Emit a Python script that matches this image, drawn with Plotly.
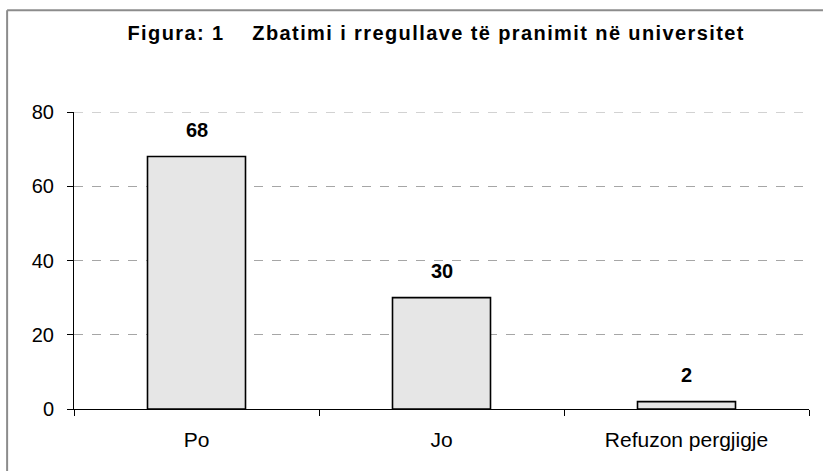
import plotly.graph_objects as go

categories = ["Po", "Jo", "Refuzon pergjigje"]
values = [68, 30, 2]
y_ticks = [0, 20, 40, 60, 80]
title_text = "Figura: 1    Zbatimi i rregullave të pranimit në universitet"

FONT = "Liberation Sans, Arial, sans-serif"

fig = go.Figure()
fig.add_trace(go.Bar(
    x=categories, y=values,
    marker=dict(color="#e6e6e6", line=dict(color="#000000", width=1.6)),
    width=0.4,
    hoverinfo="skip",
))

for c, v in zip(categories, values):
    fig.add_annotation(x=c, y=v, text=f"<b>{v}</b>", showarrow=False,
                       yanchor="middle", yshift=27,
                       font=dict(family=FONT, size=20, color="#000"))

# dashed gridline at the top tick (plotly omits the one on the range edge)
fig.add_shape(type="line", xref="paper", yref="y", x0=0, x1=1,
              y0=y_ticks[-1], y1=y_ticks[-1],
              line=dict(color="#a6a6a6", width=1, dash="dash"), layer="below")

# outer chart frame (top and left edges visible)
fig.add_shape(type="line", xref="paper", yref="paper", x0=-0.091, x1=1.019,
              y0=1.343, y1=1.343, line=dict(color="#8c8c8c", width=2))
fig.add_shape(type="line", xref="paper", yref="paper", x0=-0.091, x1=-0.091,
              y0=-0.21, y1=1.343, line=dict(color="#8c8c8c", width=2))

fig.update_layout(
    width=823, height=471,
    margin=dict(l=74, r=14, t=112, b=62),
    paper_bgcolor="white", plot_bgcolor="white",
    showlegend=False,
    title=dict(text=f"<span style='letter-spacing:1.4px'><b>{title_text}</b></span>",
               x=0.53, xanchor="center", y=0.93, yanchor="middle",
               font=dict(family=FONT, size=20, color="#000")),
    xaxis=dict(
        showline=True, linecolor="#000", linewidth=1,
        ticks="outside", ticklen=6, tickcolor="#000", tickson="boundaries",
        ticklabelstandoff=12,
        tickfont=dict(family=FONT, size=21, color="#000"),
        showgrid=False, fixedrange=True,
    ),
    yaxis=dict(
        range=[0, 80], tickvals=y_ticks,
        showline=True, linecolor="#000", linewidth=1,
        ticks="outside", ticklen=6, tickcolor="#000",
        ticklabelstandoff=9,
        tickfont=dict(family=FONT, size=20, color="#000"),
        showgrid=True, gridcolor="#a6a6a6", griddash="dash", gridwidth=1,
        zeroline=False, fixedrange=True,
    ),
)

fig.write_html("out.html", config={"displayModeBar": False},
               post_script="document.body.style.margin='0';"
                           "document.documentElement.style.overflow='hidden';"
                           "document.body.style.overflow='hidden';")
